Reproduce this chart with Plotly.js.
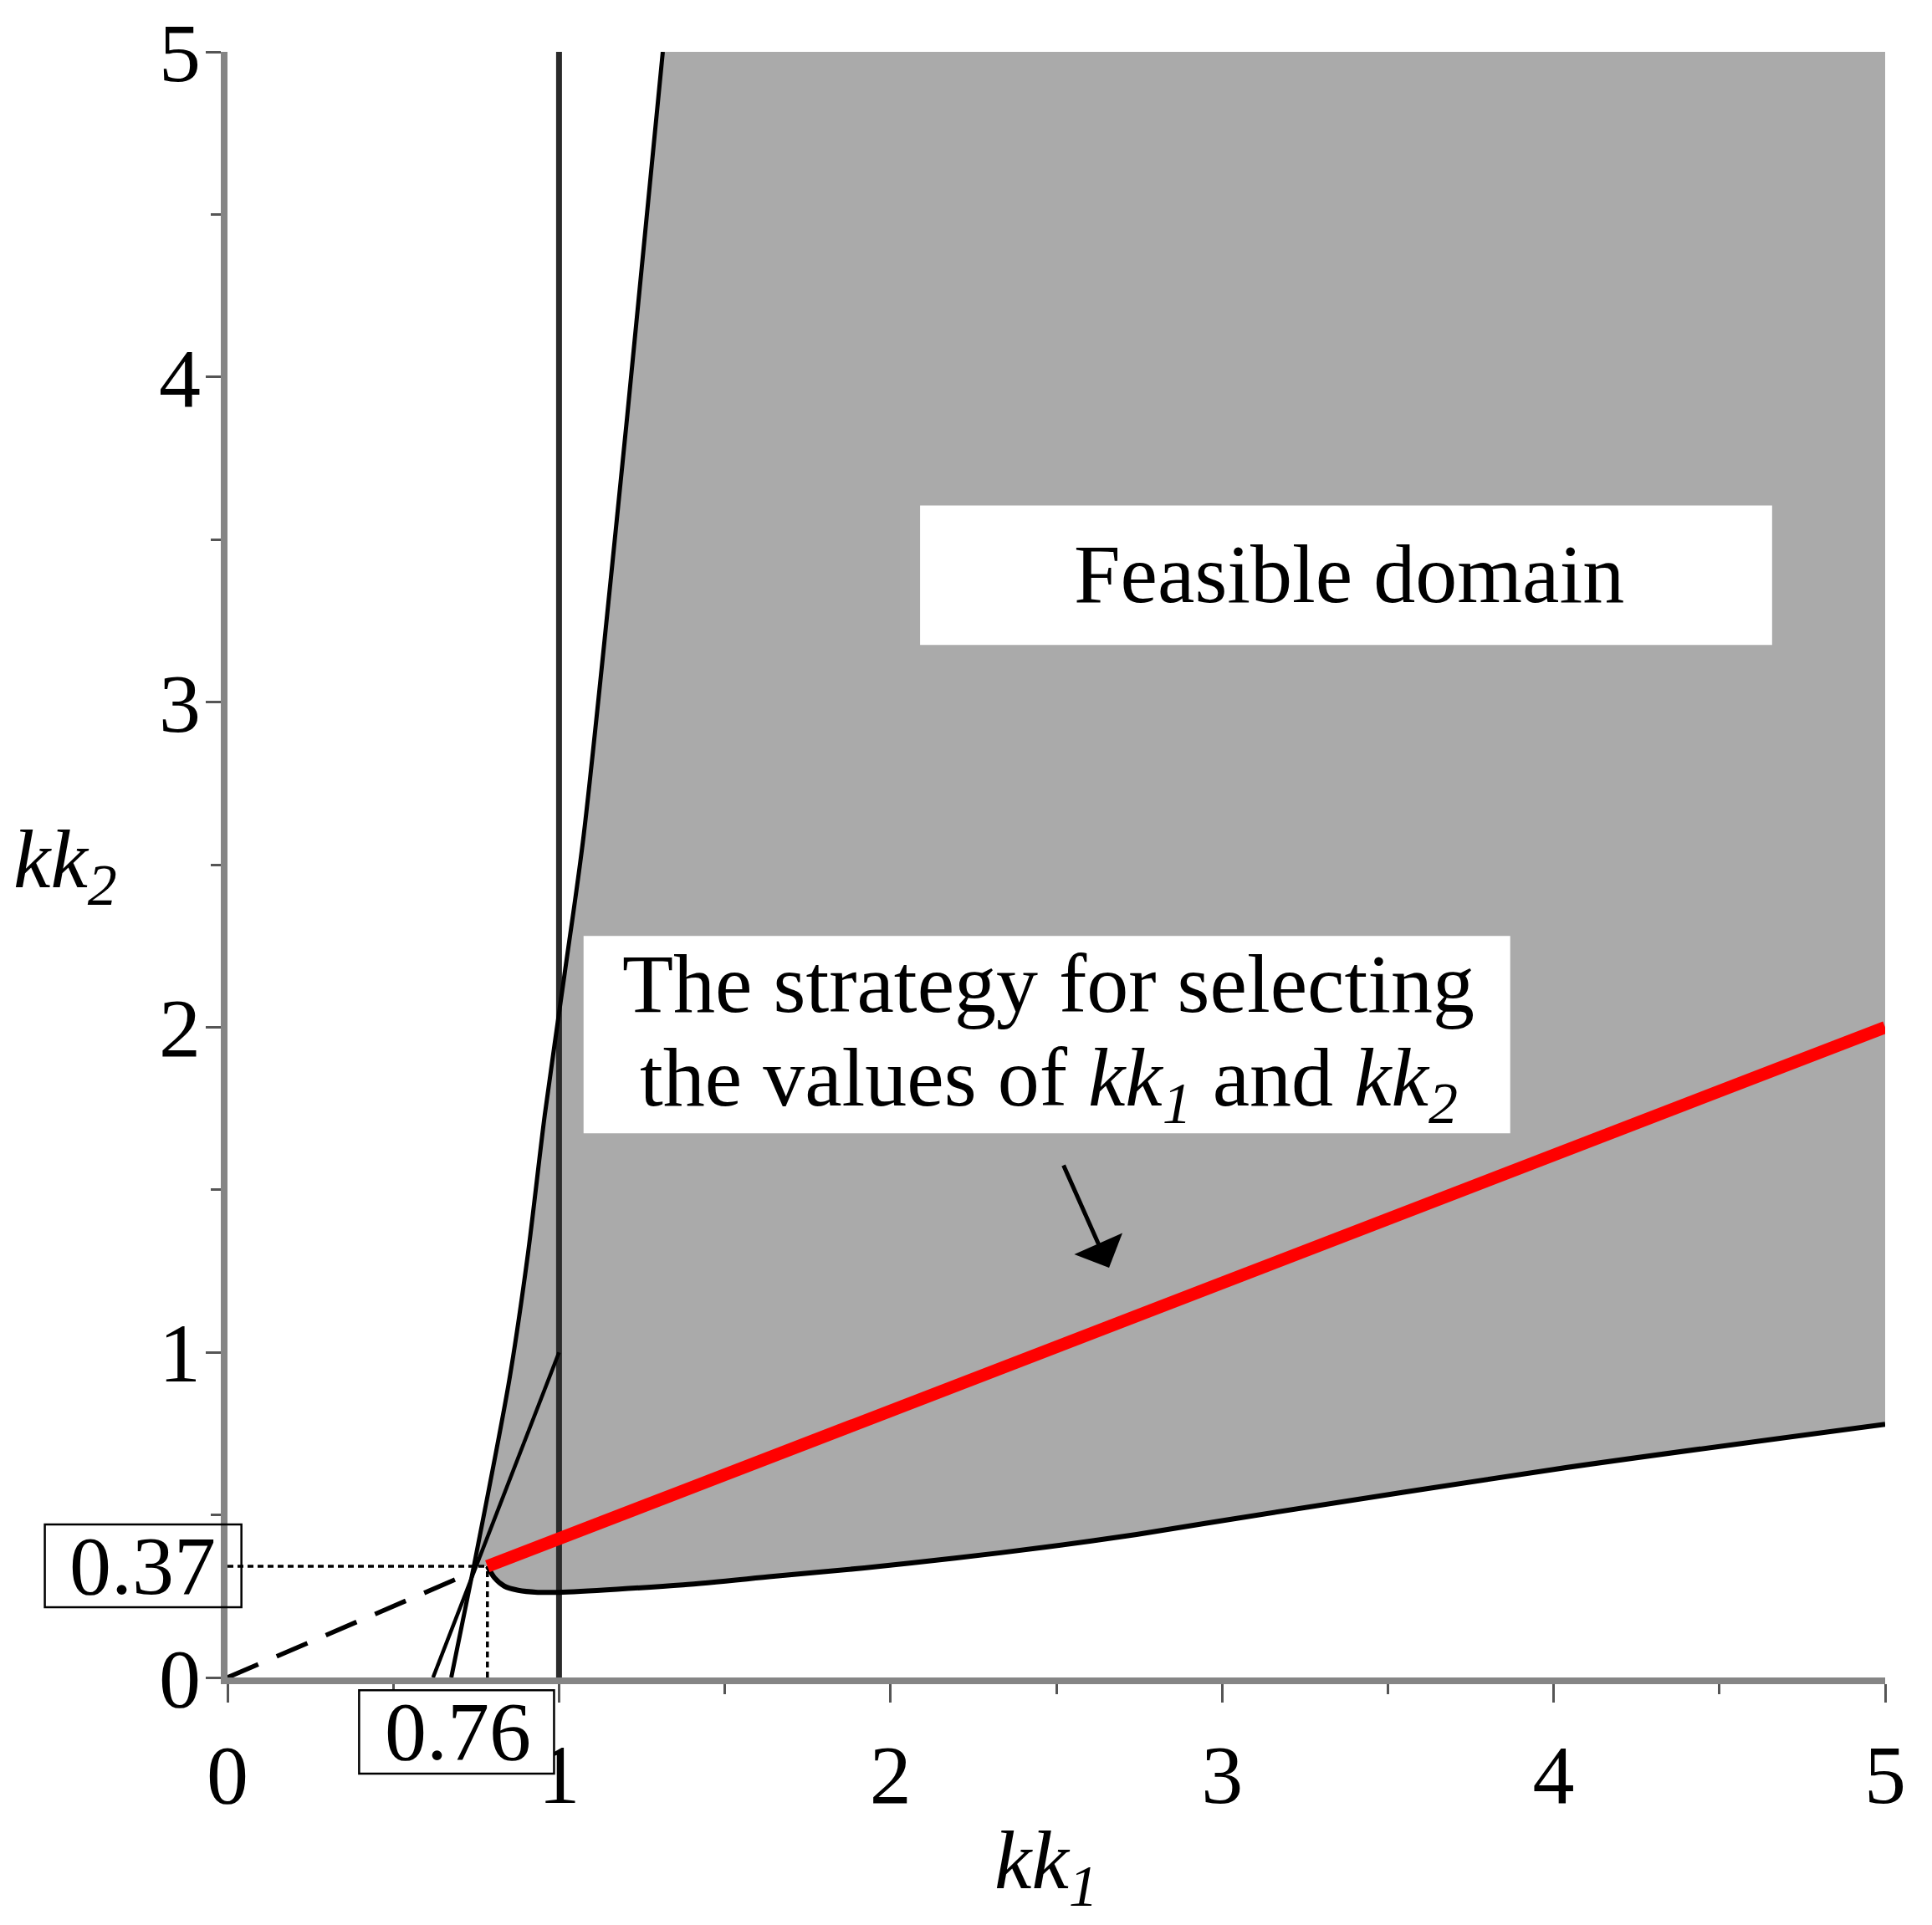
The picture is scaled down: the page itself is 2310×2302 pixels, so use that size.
<!DOCTYPE html>
<html>
<head>
<meta charset="utf-8">
<script src="https://cdn.plot.ly/plotly-3.0.1.min.js"></script>
<style>
  html, body { margin: 0; padding: 0; background: #fff; }
  #plot { width: 2310px; height: 2302px; }
</style>
</head>
<body>
<div id="plot"></div>
<script>
// values (kk1 on x, kk2 on y)
const tickVals = [0, 1, 2, 3, 4, 5];

// steep boundary curve, from the x axis up to the top of the frame
const leftK1 = [0.675, 0.743, 0.85, 0.906, 0.957, 1.016, 1.074, 1.205, 1.313];
const leftK2 = [0, 0.342, 0.915, 1.301, 1.73, 2.158, 2.587, 3.872, 5];

// lower boundary curve of the feasible domain
const lowerK1 = [0.784, 0.805, 0.835, 0.877, 0.936, 1.0, 1.374, 1.647, 1.921, 2.194, 2.469, 2.742, 3.016, 4, 5];
const lowerK2 = [0.342, 0.307, 0.281, 0.268, 0.262, 0.262, 0.285, 0.311, 0.337, 0.367, 0.401, 0.44, 0.485, 0.64, 0.779];

// straight line ending on kk1 = 1
const lineAK1 = [0.62, 1];
const lineAK2 = [0, 1];

// vertical line kk1 = 1
const vertK1 = [1, 1];
const vertK2 = [0, 5];

// selected strategy (red)
const strategyK1 = [0.784, 5];
const strategyK2 = [0.342, 2.0];

// dashed ray from the origin
const rayK1 = [0, 0.73];
const rayK2 = [0, 0.32];

// chosen point and its labels
const pointK1 = 0.784;
const pointK2 = 0.342;
const pointLabels = ["0.37", "0.76"];

const FONT = "Liberation Serif";
const toPaper = (v) => v / 5;

// feasible polygon built from the boundary arrays
const fillX = leftK1.slice(1).concat([5, 5]).concat(lowerK1.slice().reverse());
const fillY = leftK2.slice(1).concat([5, lowerK2[lowerK2.length - 1]]).concat(lowerK2.slice().reverse());

const line = (x, y, color, width, dash, shape) => ({
  x: x, y: y, type: "scatter", mode: "lines", hoverinfo: "skip",
  line: { color: color, width: width, dash: dash || "solid", shape: shape || "linear", smoothing: 0.8 },
});

const traces = [
  {
    x: fillX, y: fillY, type: "scatter", mode: "lines", fill: "toself",
    fillcolor: "#aaaaaa", line: { width: 0 }, hoverinfo: "skip",
  },
  line(vertK1, vertK2, "#2a2a2a", 7),
  line(lineAK1, lineAK2, "#000", 4.5),
  line(leftK1, leftK2, "#000", 5, null, "spline"),
  line(lowerK1, lowerK2, "#000", 6, null, "spline"),
  line(rayK1, rayK2, "#000", 5.5, "40px,24px"),
  line([0, pointK1], [pointK2, pointK2], "#000", 3.5, "7px,5px"),
  line([pointK1, pointK1], [0, pointK2], "#000", 3.5, "7px,5px"),
  line(strategyK1, strategyK2, "#ff0000", 15),
];

const axisCommon = {
  range: [0, 5],
  tickvals: tickVals,
  showgrid: false,
  zeroline: false,
  showline: true,
  linecolor: "#858585",
  linewidth: 8,
  ticks: "outside",
  ticklen: 22,
  tickwidth: 3,
  tickcolor: "#555",
  tickfont: { family: FONT, size: 100, color: "#000" },
  minor: { dtick: 0.5, ticks: "outside", ticklen: 12, tickwidth: 3, tickcolor: "#555", showgrid: false },
  fixedrange: true,
};

const txt = (text, x, y, opts) => Object.assign({
  text: text, x: x, y: y, xref: "paper", yref: "paper",
  showarrow: false, xanchor: "center", yanchor: "middle",
  font: { family: FONT, size: 100, color: "#000" },
}, opts || {});

const box = (x0, x1, y0, y1, fill, lineWidth) => ({
  type: "rect", xref: "paper", yref: "paper", layer: "above",
  x0: toPaper(x0), x1: toPaper(x1), y0: toPaper(y0), y1: toPaper(y1),
  fillcolor: fill, line: { color: "#000", width: lineWidth },
});

const layout = {
  width: 2310,
  height: 2302,
  margin: { l: 272, r: 56, t: 62, b: 296, pad: 0, autoexpand: false },
  paper_bgcolor: "#fff",
  plot_bgcolor: "#fff",
  showlegend: false,
  xaxis: Object.assign({}, axisCommon),
  yaxis: Object.assign({}, axisCommon, { ticklen: 18, ticklabelstandoff: -14 }),
  shapes: [
    box(2.089, 4.659, 3.176, 3.605, "#fff", 0),
    box(1.074, 3.869, 1.674, 2.281, "#fff", 0),
    box(-0.551, 0.042, 0.216, 0.471, "rgba(0,0,0,0)", 2.5),
    box(0.397, 0.985, -0.296, -0.039, "#fff", 2.5),
  ],
  annotations: [
    txt("<i>kk<sub>2</sub></i>", toPaper(-0.49), toPaper(2.5)),
    txt("<i>kk<sub>1</sub></i>", toPaper(2.47), toPaper(-0.58)),
    txt("Feasible domain", toPaper(3.383), toPaper(3.394)),
    txt("The strategy for selecting", toPaper(2.477), toPaper(2.134)),
    txt("the values of <i>kk<sub>1</sub></i> and <i>kk<sub>2</sub></i>", toPaper(2.477), toPaper(1.828)),
    txt(pointLabels[0], toPaper(-0.256), toPaper(0.344)),
    txt(pointLabels[1], toPaper(0.695), toPaper(-0.167)),
    {
      x: 2.659, y: 1.26, xref: "x", yref: "y",
      ax: 2.52, ay: 1.579, axref: "x", ayref: "y",
      text: "", showarrow: true, arrowhead: 1, arrowsize: 2.1,
      arrowwidth: 5, arrowcolor: "#000", standoff: 0,
    },
  ],
};

Plotly.newPlot("plot", traces, layout, { staticPlot: true, displayModeBar: false });
</script>
</body>
</html>
